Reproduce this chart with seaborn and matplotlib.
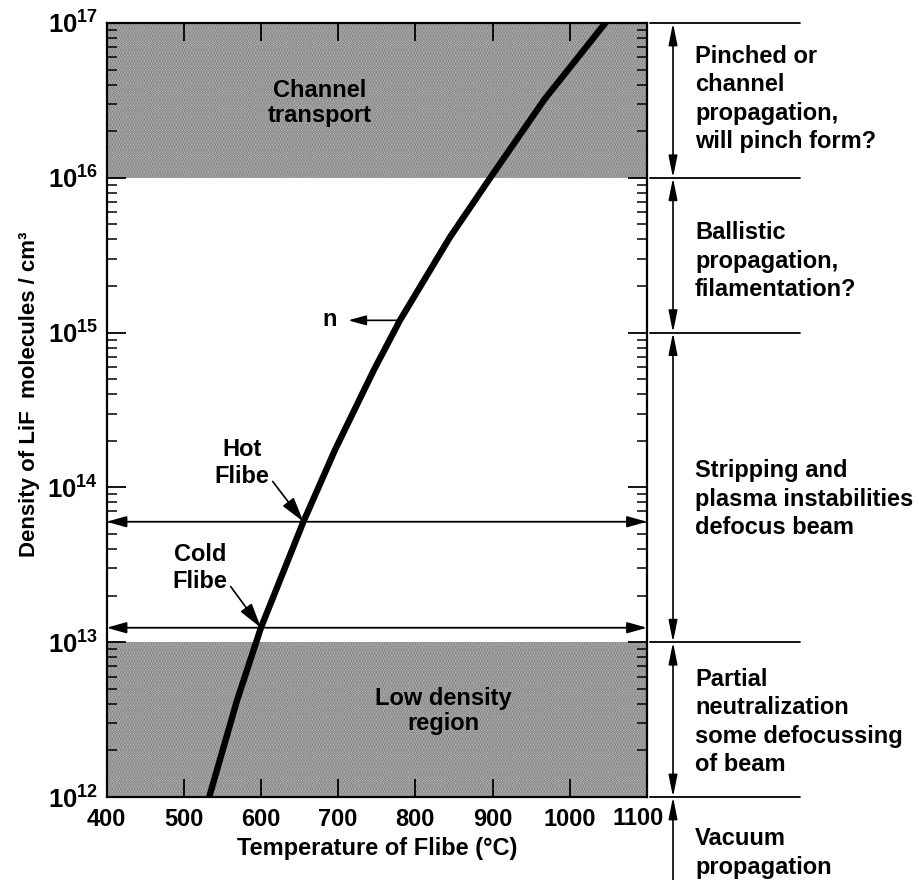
import matplotlib
matplotlib.use("Agg")
import matplotlib.pyplot as plt
import matplotlib.ticker as mticker
import seaborn as sns
import numpy as np
import pandas as pd

# ---- data ----
temperature = [533, 569, 600, 655, 696, 746, 780, 845, 897, 967, 1046]
density = [1.0e12, 4.2e12, 1.24e13, 6.0e13, 1.75e14, 5.7e14, 1.2e15, 4.15e15, 1.0e16, 3.2e16, 1.0e17]
hot_flibe = 6.0e13
cold_flibe = 1.24e13
channel_band = (1e16, 1e17)
low_band = (1e12, 1e13)
regime_bounds = [1e17, 1e16, 1e15, 1e13, 1e12]
regime_labels = [
    "Pinched or\nchannel\npropagation,\nwill pinch form?",
    "Ballistic\npropagation,\nfilamentation?",
    "Stripping and\nplasma instabilities\ndefocus beam",
    "Partial\nneutralization\nsome defocussing\nof beam",
    "Vacuum\npropagation",
]
x_ticks = [400, 500, 600, 700, 800, 900, 1000, 1100]

sns.set_theme(style="ticks")
plt.rcParams["font.family"] = ["Liberation Sans", "DejaVu Sans"]
plt.rcParams["font.weight"] = "bold"
plt.rcParams["text.color"] = "black"
plt.rcParams["axes.labelcolor"] = "black"
plt.rcParams["xtick.color"] = "black"
plt.rcParams["ytick.color"] = "black"
plt.rcParams["mathtext.fontset"] = "custom"
plt.rcParams["mathtext.rm"] = "Liberation Sans:bold"
plt.rcParams["mathtext.bf"] = "Liberation Sans:bold"
plt.rcParams["mathtext.it"] = "Liberation Sans:bold:italic"
plt.rcParams["hatch.linewidth"] = 1.6

FS = 17
W, H = 922, 880
fig = plt.figure(figsize=(W / 100, H / 100), dpi=100)
L, R, T, B = 106.5, 647, 23, 797
ax = fig.add_axes([L / W, 1 - B / H, (R - L) / W, (B - T) / H])

ax.set_yscale("log")
ax.set_xlim(400, 1100)
ax.set_ylim(1e12, 1e17)

# shaded bands
for lo, hi in (channel_band, low_band):
    ax.axhspan(lo, hi, facecolor="#c8c8c8", edgecolor="#747474", hatch="......", linewidth=0, zorder=0)

df = pd.DataFrame({"T": temperature, "n": density})
sns.lineplot(data=df, x="T", y="n", ax=ax, color="black", linewidth=4.6, zorder=5, sort=False)

# hot / cold flibe double arrows
for yv in (hot_flibe, cold_flibe):
    ax.annotate("", xy=(400, yv), xytext=(1100, yv), xycoords="data",
                arrowprops=dict(arrowstyle="<|-|>,head_length=1.0,head_width=0.28",
                                color="black", lw=1.3, shrinkA=0, shrinkB=0), zorder=4)

# region labels (figure-pixel placement)
def fpx(x, y):
    return (x / W, 1 - y / H)

fig.text(*fpx(320, 103), "Channel\ntransport", ha="center", va="center", fontsize=FS, linespacing=1.15, zorder=6)
fig.text(*fpx(443, 711), "Low density\nregion", ha="center", va="center", fontsize=FS, linespacing=1.15, zorder=6)

# annotations
arrow_kw = dict(arrowstyle="-|>,head_length=0.9,head_width=0.25", color="black", lw=1.2,
                shrinkA=0, shrinkB=0, relpos=(1.0, 0.22))
ax.annotate("Hot\nFlibe", xy=(655, hot_flibe), xytext=(242, H - 463), textcoords="figure pixels",
            ha="center", va="center", fontsize=FS, linespacing=1.25, arrowprops=arrow_kw, zorder=6)
ax.annotate("Cold\nFlibe", xy=(600, cold_flibe), xytext=(200, H - 568), textcoords="figure pixels",
            ha="center", va="center", fontsize=FS, linespacing=1.25, arrowprops=arrow_kw, zorder=6)
ax.annotate("", xy=(713, 1.2e15), xytext=(780, 1.2e15),
            arrowprops=dict(arrowstyle="-|>,head_length=0.9,head_width=0.25", color="black", lw=1.2,
                            shrinkA=0, shrinkB=0), zorder=6)
fig.text(*fpx(330, 320), "n", ha="center", va="center", fontsize=FS)

# axes styling
for s in ax.spines.values():
    s.set_linewidth(1.6)
    s.set_color("black")
    s.set_visible(True)
ax.set_xticks(x_ticks)
ax.xaxis.set_major_formatter(mticker.FuncFormatter(lambda v, p: "" if v >= 1100 else f"{int(v)}"))
fig.text(*fpx(638, 818), "1100", ha="center", va="center", fontsize=FS)
ax.yaxis.set_major_locator(mticker.LogLocator(base=10, numticks=10))
ax.yaxis.set_minor_locator(mticker.LogLocator(base=10, subs=np.arange(2, 10), numticks=20))
ax.yaxis.set_minor_formatter(mticker.NullFormatter())
ax.tick_params(axis="x", which="major", direction="in", length=13, width=1.3, top=True, bottom=True,
               labelsize=FS, pad=8, colors="black")
ax.tick_params(axis="y", which="major", direction="in", length=14, width=1.3, left=True, right=True,
               labelsize=FS + 1.5, pad=6, colors="black")
ax.tick_params(axis="y", which="minor", direction="in", length=7, width=1.1, left=True, right=True)
ax.tick_params(axis="x", which="minor", bottom=False, top=False)
ax.set_xlabel("Temperature of Flibe (°C)", fontsize=FS, fontweight="bold", labelpad=4, color="black")
ax.set_ylabel("Density of LiF  molecules / cm³", fontsize=FS - 1, fontweight="bold", color="black")
ax.yaxis.set_label_coords((40 - L) / (R - L), 0.52)

# right-hand regime scale
trans = ax.get_yaxis_transform()
fx = lambda px: (px - L) / (R - L)
for b in regime_bounds:
    ax.plot([fx(650), fx(800)], [b, b], transform=trans, color="black", lw=1.3, clip_on=False)
for hi, lo in zip(regime_bounds[:-1], regime_bounds[1:]):
    ax.annotate("", xy=(fx(673), hi), xytext=(fx(673), lo), xycoords=trans,
                arrowprops=dict(arrowstyle="<|-|>,head_length=1.1,head_width=0.22", color="black",
                                lw=1.2, shrinkA=0, shrinkB=0), annotation_clip=False)
bottom_val = 10 ** (17 - (H + 2 - T) / ((B - T) / 5))
ax.annotate("", xy=(fx(673), regime_bounds[-1]), xytext=(fx(673), bottom_val), xycoords=trans,
            arrowprops=dict(arrowstyle="-|>,head_length=1.1,head_width=0.22", color="black",
                            lw=1.2, shrinkA=0, shrinkB=0), annotation_clip=False)

label_centers_px = [99, 261, 499, 722, 853]
for txt, cy in zip(regime_labels, label_centers_px):
    fig.text(695 / W, 1 - cy / H, txt, ha="left", va="center", fontsize=FS, linespacing=1.3)

fig.savefig("out.png", dpi=100)
